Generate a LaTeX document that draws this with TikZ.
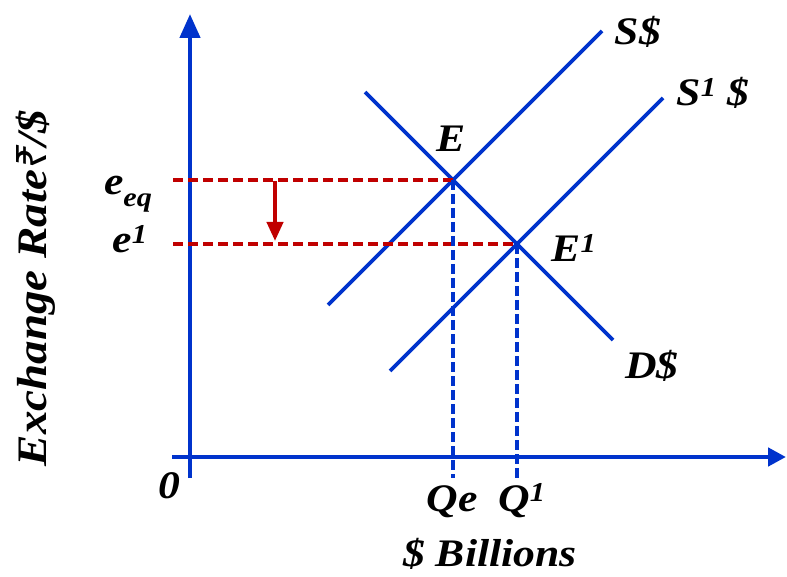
\documentclass[tikz,border=0pt]{standalone}
\usepackage{fontspec}
\setmainfont{Liberation Serif}[FakeStretch=1.12]
\newfontfamily\rupeefont{Noto Sans}
\usetikzlibrary{arrows.meta}
\definecolor{axblue}{RGB}{0,51,204}
\definecolor{dred}{RGB}{192,0,0}
\begin{document}
\begin{tikzpicture}[x=1pt,y=-1pt,
  lbl/.style={font=\fontsize{39}{39}\selectfont\bfseries\itshape, inner sep=0pt, anchor=base},
  axisline/.style={axblue, line width=4.5pt},
  curve/.style={axblue, line width=3.8pt},
  guide/.style={dred, line width=4pt, dash pattern=on 10pt off 5pt},
  vguide/.style={axblue, line width=4pt, dash pattern=on 10pt off 4pt}]
\useasboundingbox (0,0) rectangle (787,577);
% axes
\coordinate (ytop) at (190,14);
\coordinate (ybot) at (190,478);
\coordinate (xleft) at (172,457);
\coordinate (xright) at (786,457);
\draw[axisline,-{Triangle[length=24pt,width=20pt]}] (ybot) -- (ytop);
\draw[axisline,-{Triangle[length=18pt,width=18pt]}] (xleft) -- (xright);
% curves
\coordinate (E) at (453,180);
\coordinate (E1) at (517,244);
\coordinate (Sa) at (328,305);
\coordinate (Sb) at (602,31);
\coordinate (S1a) at (390,371);
\coordinate (S1b) at (663,98);
\coordinate (Da) at (365,92);
\coordinate (Db) at (613,340);
\draw[curve] (Sa) -- (Sb);
\draw[curve] (S1a) -- (S1b);
\draw[curve] (Da) -- (Db);
% guides
\coordinate (eqL) at (173,180);
\coordinate (e1L) at (173,244);
\coordinate (QeB) at (453,478);
\coordinate (Q1B) at (517,478);
\draw[guide] (eqL) -- (E);
\draw[guide] (e1L) -- (E1);
\draw[vguide] (E) -- (QeB);
\draw[vguide] (E1) -- (Q1B);
% shift arrow
\coordinate (arA) at (275,181);
\coordinate (arB) at (275,241);
\draw[dred, line width=4pt, -{Triangle[length=19pt,width=16pt]}] (arA) -- (arB);
% labels
\node[lbl] (lS) at (638,45) {S\$};
\node[lbl] (lS1) at (713,106) {S\textsuperscript{1} \$};
\node[lbl] (lE) at (451,152) {E};
\node[lbl] (lE1) at (574,262) {E\textsuperscript{1}};
\node[lbl] (lD) at (652,378) {D\$};
\node[lbl] (leq) at (128,195) {e\raisebox{-0.3em}{\fontsize{27}{27}\selectfont eq}};
\node[lbl] (le1) at (130,253) {e\textsuperscript{1}};
\node[lbl] (l0) at (169,498) {0};
\node[lbl] (lQe) at (452,511) {Qe};
\node[lbl] (lQ1) at (522,511) {Q\textsuperscript{1}};
\node[lbl] (lx) at (490,566) {\$ Billions};
\node[lbl, font=\fontsize{42}{42}\selectfont\bfseries\itshape, anchor=center, rotate=90] (ly) at (36,288) {Exchange Rate{\rupeefont\bfseries\itshape ₹}/\$};
\end{tikzpicture}
\end{document}
